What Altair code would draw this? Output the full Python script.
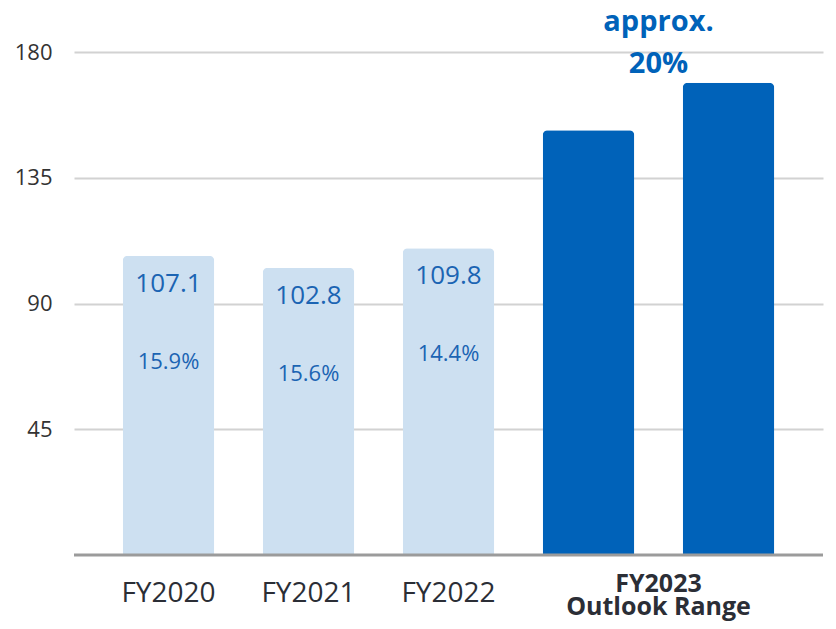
import altair as alt
import pandas as pd

# ---- data ----
categories = ["FY2020", "FY2021", "FY2022", "FY2023 low", "FY2023 high"]
values = [107.1, 102.8, 109.8, 152.0, 169.0]
series = ["actual", "actual", "actual", "outlook", "outlook"]
value_labels = ["107.1", "102.8", "109.8", "", ""]
margin_labels = ["15.9%", "15.6%", "14.4%", "", ""]
axis_labels = ["FY2020", "FY2021", "FY2022", "", ""]
outlook_label = ["FY2023", "Outlook Range"]
outlook_note = ["approx.", "20%"]
y_ticks = [45, 90, 135, 180]

df = pd.DataFrame({
    "cat": categories,
    "val": values,
    "base": [0] * len(categories),
    "series": series,
    "vlabel": value_labels,
    "mlabel": margin_labels,
    "xlabel": axis_labels,
})
label_df = pd.DataFrame({"cat": [categories[3]], "text": ["\n".join(outlook_label)], "val": [0]})
note_df = pd.DataFrame({"cat": [categories[4]], "text": ["\n".join(outlook_note)], "val": [values[4]]})
base_df = pd.DataFrame({"base": [0]})

FONT = "Open Sans"
BLUE_TXT = "#1b64b3"

x = alt.X(
    "cat:N",
    sort=categories,
    scale=alt.Scale(domain=categories, paddingInner=0.346, paddingOuter=0.348),
    axis=None,
)
y_scale = alt.Scale(domain=[0, 180], nice=False, zero=True)
y_axis = alt.Axis(values=y_ticks, title=None, domain=False, ticks=False,
                  labelFontSize=22, labelColor="#333333", labelPadding=22,
                  labelFont=FONT, gridColor="#d2d2d2", gridWidth=2)
y = alt.Y("val:Q", scale=y_scale, axis=y_axis)
y_base = alt.Y("base:Q", scale=y_scale, axis=y_axis)

bars = alt.Chart(df).mark_bar(cornerRadiusTopLeft=5, cornerRadiusTopRight=5).encode(
    x=x,
    y=y,
    color=alt.Color("series:N",
                    scale=alt.Scale(domain=["actual", "outlook"], range=["#cde0f1", "#0062b9"]),
                    legend=None),
)

baseline = alt.Chart(base_df).mark_rule(color="#9b9b9b", strokeWidth=3).encode(y=y_base)

value_text = alt.Chart(df).mark_text(
    baseline="alphabetic", dy=36, fontSize=26, color=BLUE_TXT, font=FONT
).encode(x=x, y=y, text="vlabel:N")

margin_text = alt.Chart(df).mark_text(
    baseline="alphabetic", dy=113, fontSize=22, color=BLUE_TXT, font=FONT
).encode(x=x, y=y, text="mlabel:N")

xlabel_text = alt.Chart(df).mark_text(
    baseline="alphabetic", dy=47, fontSize=28, color="#2b2e36", font=FONT
).encode(x=x, y=y_base, text="xlabel:N")

outlook_text = alt.Chart(label_df).mark_text(
    baseline="alphabetic", dx=70, dy=37, fontSize=25, fontWeight="bold",
    color="#2b2e36", font=FONT, lineBreak="\n", lineHeight=23
).encode(x=x, y=y, text="text:N")

note_text = alt.Chart(note_df).mark_text(
    baseline="alphabetic", dx=-70, dy=-52, fontSize=29, fontWeight="bold",
    color="#0062b9", font=FONT, lineBreak="\n", lineHeight=42
).encode(x=x, y=y, text="text:N")

chart = alt.layer(bars, baseline, value_text, margin_text, xlabel_text, outlook_text, note_text).properties(
    width=749,
    height=503,
    background="white",
    autosize=alt.AutoSizeParams(type="none"),
    padding={"left": 66, "top": 44, "right": 4, "bottom": 66},
).configure_view(
    strokeWidth=0
).configure_axisY(
    domain=False, ticks=False
)

chart.save("out.html", embed_options={"renderer": "svg", "actions": False})
